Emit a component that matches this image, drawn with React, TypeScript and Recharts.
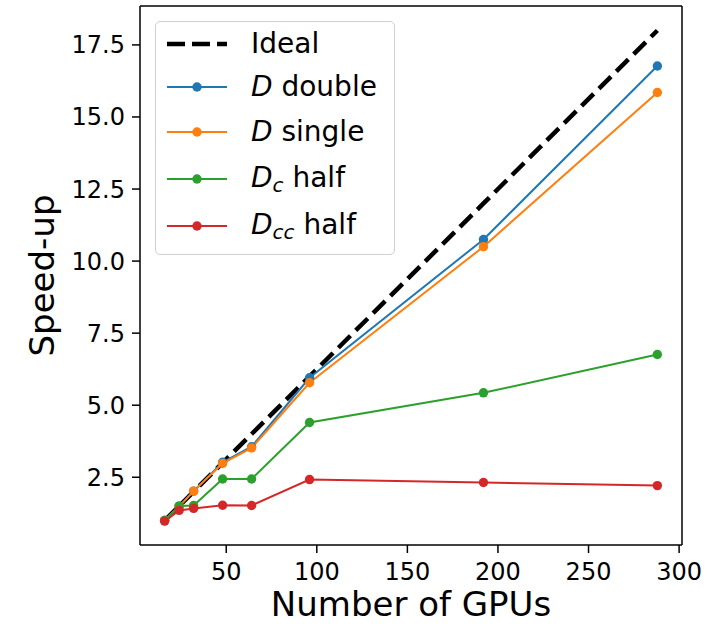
import { LineChart, Line, XAxis, YAxis, ReferenceLine } from 'recharts';

const gpus = [16, 24, 32, 48, 64, 96, 192, 288];
const ideal = [1, 1.5, 2, 3, 4, 6, 12, 18];
const dDouble = [1, 1.5, 2.02, 3.02, 3.56, 5.95, 10.75, 16.77];
const dSingle = [1, 1.48, 2.02, 2.98, 3.52, 5.78, 10.5, 15.85];
const dcHalf = [1, 1.5, 1.52, 2.44, 2.44, 4.4, 5.43, 6.76];
const dccHalf = [0.98, 1.35, 1.42, 1.53, 1.52, 2.42, 2.32, 2.21];

const xTicks = [50, 100, 150, 200, 250, 300];
const yTicks = [2.5, 5, 7.5, 10, 12.5, 15, 17.5];
const xDomain = [2.4, 301.6];
const yDomain = [0.15, 18.85];

const data = gpus.map((g, i) => ({
  gpus: g,
  ideal: ideal[i],
  dDouble: dDouble[i],
  dSingle: dSingle[i],
  dcHalf: dcHalf[i],
  dccHalf: dccHalf[i],
}));

const FONT = 'DejaVu Sans';
const tickStyle = { fill: '#000', fontSize: 24, fontFamily: FONT };

const series = [
  { key: 'dDouble', color: '#1f77b4' },
  { key: 'dSingle', color: '#ff7f0e' },
  { key: 'dcHalf', color: '#2ca02c' },
  { key: 'dccHalf', color: '#d62728' },
];

// legend rows: label parts, colour, row centre (px from legend box top)
const legendRows = [
  { main: 'Ideal', sub: '', rest: '', color: '#000', dashed: true, cy: 22 },
  { main: 'D', sub: '', rest: ' double', color: '#1f77b4', dashed: false, cy: 65 },
  { main: 'D', sub: '', rest: ' single', color: '#ff7f0e', dashed: false, cy: 110 },
  { main: 'D', sub: 'c', rest: ' half', color: '#2ca02c', dashed: false, cy: 156.5 },
  { main: 'D', sub: 'cc', rest: ' half', color: '#d62728', dashed: false, cy: 203.5 },
];

function Handle({ color, dashed }: { color: string; dashed?: boolean }) {
  return (
    <svg width={62} height={12} style={{ display: 'block' }}>
      {dashed ? (
        <line x1={1} y1={6} x2={61} y2={6} stroke="#000" strokeWidth={4.5} strokeDasharray="18 7" />
      ) : (
        <>
          <line x1={1} y1={6} x2={61} y2={6} stroke={color} strokeWidth={2} />
          <circle cx={31} cy={6} r={4.7} fill={color} />
        </>
      )}
    </svg>
  );
}

function LegendBox() {
  return (
    <div
      style={{
        position: 'absolute',
        left: 155,
        top: 21,
        width: 240,
        height: 234,
        boxSizing: 'border-box',
        border: '1.5px solid #d0d0d0',
        borderRadius: 5,
        background: 'rgba(255,255,255,0.8)',
        fontFamily: FONT,
      }}
    >
      {legendRows.map((r) => (
        <div
          key={r.main + r.sub + r.rest}
          style={{
            position: 'absolute',
            left: 10,
            top: r.cy - 20,
            height: 40,
            display: 'flex',
            alignItems: 'center',
            whiteSpace: 'nowrap',
          }}
        >
          <Handle color={r.color} dashed={r.dashed} />
          <span style={{ marginLeft: 23, fontSize: 28, lineHeight: '28px' }}>
            {r.dashed ? r.main : <i>{r.main}</i>}
            {r.sub && (
              <i style={{ fontSize: 20, position: 'relative', top: 5 }}>{r.sub}</i>
            )}
            {r.rest}
          </span>
        </div>
      ))}
    </div>
  );
}

function YLabel(props: any) {
  const { viewBox } = props;
  const cy = viewBox.y + viewBox.height / 2;
  return (
    <text
      x={54}
      y={cy}
      transform={`rotate(-90, 54, ${cy})`}
      textAnchor="middle"
      fontSize={34}
      fontFamily={FONT}
      fill="#000"
    >
      Speed-up
    </text>
  );
}

function XLabel(props: any) {
  const { viewBox } = props;
  const cx = viewBox.x + viewBox.width / 2;
  return (
    <text x={cx} y={616} textAnchor="middle" fontSize={34} fontFamily={FONT} fill="#000">
      Number of GPUs
    </text>
  );
}

export default function App() {
  return (
    <div
      style={{
        position: 'absolute',
        left: 0,
        top: 0,
        width: 726,
        height: 624,
        background: '#fff',
        fontFamily: FONT,
      }}
    >
      <LineChart
        width={726}
        height={624}
        data={data}
        margin={{ top: 6, right: 44, bottom: 0, left: 0 }}
      >
        <XAxis
          dataKey="gpus"
          type="number"
          domain={xDomain}
          ticks={xTicks}
          allowDataOverflow
          height={79}
          tick={tickStyle}
          tickSize={8}
          tickMargin={10}
          stroke="#000"
          strokeWidth={1.5}
          label={<XLabel />}
        />
        <YAxis
          type="number"
          domain={yDomain}
          ticks={yTicks}
          allowDataOverflow
          width={140}
          tick={tickStyle}
          tickSize={8}
          tickMargin={7}
          tickFormatter={(v: number) => v.toFixed(1)}
          stroke="#000"
          strokeWidth={1.5}
          label={<YLabel />}
        />
        <ReferenceLine x={xDomain[1]} stroke="#000" strokeWidth={1.5} />
        <ReferenceLine y={yDomain[1]} stroke="#000" strokeWidth={1.5} />
        <Line
          dataKey="ideal"
          stroke="#000"
          strokeWidth={4.5}
          strokeDasharray="17 7.5"
          dot={false}
          isAnimationActive={false}
        />
        {series.map((s) => (
          <Line
            key={s.key}
            dataKey={s.key}
            stroke={s.color}
            strokeWidth={2}
            dot={{ r: 4.7, fill: s.color, stroke: s.color, strokeWidth: 0 }}
            isAnimationActive={false}
          />
        ))}
      </LineChart>
      <LegendBox />
    </div>
  );
}
